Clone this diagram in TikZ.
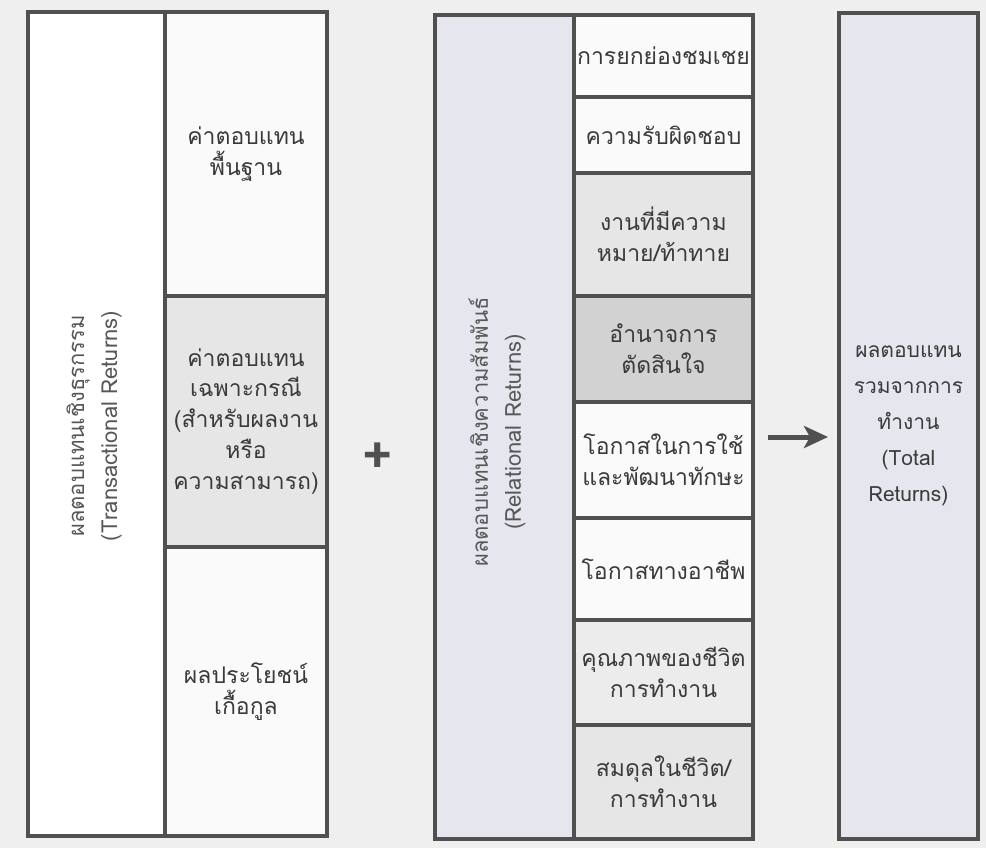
\documentclass[tikz,border=0pt]{standalone}
\usepackage{fontspec}
\setmainfont[Script=Thai]{Loma}
\usetikzlibrary{arrows.meta}

\definecolor{pagegray}{HTML}{EFEFEF}
\definecolor{edge}{HTML}{505050}
\definecolor{ink}{HTML}{3A3A3A}
\definecolor{paleA}{HTML}{FAFAFA}
\definecolor{paleB}{HTML}{E6E6E6}
\definecolor{paleC}{HTML}{D2D2D2}
\definecolor{paleD}{HTML}{ECECEC}
\definecolor{lilac}{HTML}{E6E6EE}

\begin{document}
\begin{tikzpicture}[x=0.5pt,y=-0.5pt,
    cell/.style={draw=edge, line width=2pt},
    lbl/.style={align=center, text=ink, font=\fontsize{11.5}{15.5}\selectfont},
    side/.style={align=center, text=ink!85, rotate=90, font=\fontsize{11}{16.5}\selectfont}]
	%\draw[help lines] (0,0) grid[step=50] (986,848);
	\fill[pagegray] (0,0) rectangle (986,848);
	
	%TRANSACTIONAL
	\draw[cell, fill=white] (28,12) rectangle (165,836);
	\node[side] (trans) at (94,426) {ผลตอบแทนเชิงธุรกรรม\\(Transactional Returns)};
	\foreach \ya/\yb/\shade/\txt [count=\i] in {12/296/paleA/{ค่าตอบแทน\\พื้นฐาน},
	    296/547/paleB/{ค่าตอบแทน\\เฉพาะกรณี\\(สำหรับผลงาน\\หรือ\\ความสามารถ)},
	    547/836/paleA/{ผลประโยชน์\\เกื้อกูล}}
	  \draw[cell, fill=\shade] (165,\ya) rectangle (327,\yb) node[midway, lbl] (tr\i) {\txt};
	
	\node[font=\fontsize{26}{26}\selectfont\bfseries, text=edge] (plus) at (378,458) {+};
	
	%RELATIONAL
	\draw[cell, fill=lilac] (435,15) rectangle (753,839);
	\node[side] (rela) at (497,432) {ผลตอบแทนเชิงความสัมพันธ์\\(Relational Returns)};
	\foreach \ya/\yb/\shade/\txt [count=\i] in {15/97/paleA/{การยกย่องชมเชย},
	    97/173/paleA/{ความรับผิดชอบ},
	    173/296/paleB/{งานที่มีความ\\หมาย/ท้าทาย},
	    296/402/paleC/{อำนาจการ\\ตัดสินใจ},
	    402/518/paleA/{โอกาสในการใช้\\และพัฒนาทักษะ},
	    518/620/paleA/{โอกาสทางอาชีพ},
	    620/725/paleD/{คุณภาพของชีวิต\\การทำงาน},
	    725/839/paleB/{สมดุลในชีวิต/\\การทำงาน}}
	  \draw[cell, fill=\shade] (574,\ya) rectangle (753,\yb) node[midway, lbl] (rel\i) {\txt};
	
	%TOTAL
	\draw[cell, fill=lilac] (839,13) rectangle (978,839) node[midway, lbl, font=\fontsize{10.5}{18}\selectfont] (total) {ผลตอบแทน\\รวมจากการ\\ทำงาน\\(Total\\Returns)};
	\coordinate (arrtail) at (768,437);
	\coordinate (arrtip) at (828,437);
	\draw[line width=2.5pt, edge, -{Stealth[length=12pt, width=11pt, inset=3pt]}] (arrtail) -- (arrtip);
	
\end{tikzpicture}
\end{document}
